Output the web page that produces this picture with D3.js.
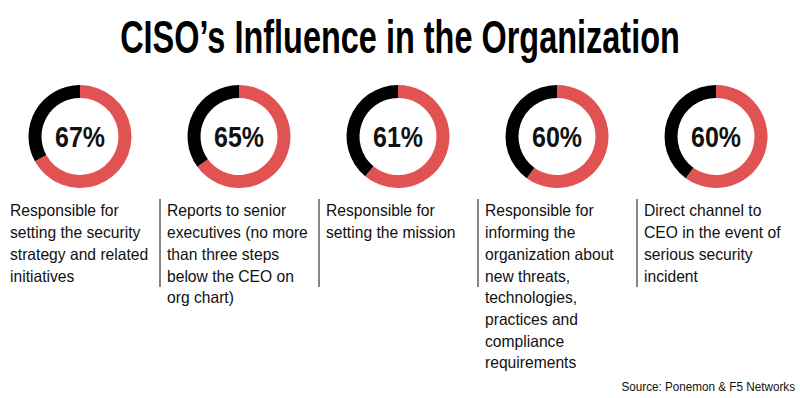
<!DOCTYPE html>
<html lang="en">
<head>
<meta charset="UTF-8">
<script src="https://d3js.org/d3.v7.min.js"></script>
<style>
  body { margin: 0; background: #fff; }
  svg { display: block; }
</style>
</head>
<body>
<svg id="chart" width="800" height="398"></svg>
<script>
const values = [67, 65, 61, 60, 60];
const labels = [
  ["Responsible for", "setting the security", "strategy and related", "initiatives"],
  ["Reports to senior", "executives (no more", "than three steps", "below the CEO on", "org chart)"],
  ["Responsible for", "setting the mission"],
  ["Responsible for", "informing the", "organization about", "new threats,", "technologies,", "practices and", "compliance", "requirements"],
  ["Direct channel to", "CEO in the event of", "serious security", "incident"]
];
const title = "CISO\u2019s Influence in the Organization";
const source = "Source: Ponemon & F5 Networks";

const svg = d3.select("#chart");
const red = "#e15253";
const narrow = "'Liberation Sans Narrow', 'Liberation Sans', Arial, sans-serif";
const plain = "'Liberation Sans', Arial, sans-serif";

// squeeze a text horizontally to a target width (condensed look)
function squeeze(g, width) {
  const t = g.select("text");
  const w = t.node().getComputedTextLength();
  const tr = g.attr("transform") || "";
  g.attr("transform", `${tr} scale(${width / w},1)`);
}

const tg = svg.append("g").attr("transform", "translate(400,53)");
tg.append("text")
  .attr("text-anchor", "middle")
  .attr("font-family", narrow).attr("font-weight", "bold")
  .attr("font-size", 46).attr("fill", "#000")
  .text(title);
squeeze(tg, 560);

const x = d3.scalePoint().domain(d3.range(values.length)).range([80, 716]);
const cy = 136.5;
const arc = d3.arc().innerRadius(38.5).outerRadius(51.5);
const pie = d3.pie().sort(null);

const col = svg.selectAll("g.col").data(values).join("g")
  .attr("class", "col")
  .attr("transform", (d, i) => `translate(${x(i)},0)`);

col.selectAll("path")
  .data(d => pie([d, 100 - d]))
  .join("path")
  .attr("transform", `translate(0,${cy})`)
  .attr("d", arc)
  .attr("fill", (d, i) => i === 0 ? red : "#000");

col.append("g")
  .attr("transform", `translate(0,${cy + 10})`)
  .each(function(d) {
    const g = d3.select(this);
    g.append("text")
      .attr("text-anchor", "middle")
      .attr("font-family", narrow).attr("font-weight", "bold")
      .attr("font-size", 29).attr("fill", "#111")
      .text(d + "%");
    squeeze(g, 50);
  });

// separators between columns
col.filter((d, i) => i > 0).append("line")
  .attr("x1", -79).attr("x2", -79)
  .attr("y1", 199).attr("y2", 287)
  .attr("stroke", "#333").attr("stroke-width", 1.2);

const lab = col.append("g")
  .attr("transform", (d, i) => `translate(${i === 0 ? -70 : -72},0) scale(0.96,1)`);

lab.append("text")
  .attr("font-family", plain).attr("font-size", 16.3).attr("fill", "#111")
  .selectAll("tspan")
  .data((d, i) => labels[i])
  .join("tspan")
  .attr("x", 0)
  .attr("y", (d, j) => 216.5 + j * 21.7)
  .text(d => d);

svg.append("g").attr("transform", "translate(795,0) scale(0.9,1)")
  .append("text")
  .attr("x", 0).attr("y", 391)
  .attr("text-anchor", "end")
  .attr("font-family", plain).attr("font-size", 13).attr("fill", "#111")
  .text(source);
</script>
</body>
</html>
